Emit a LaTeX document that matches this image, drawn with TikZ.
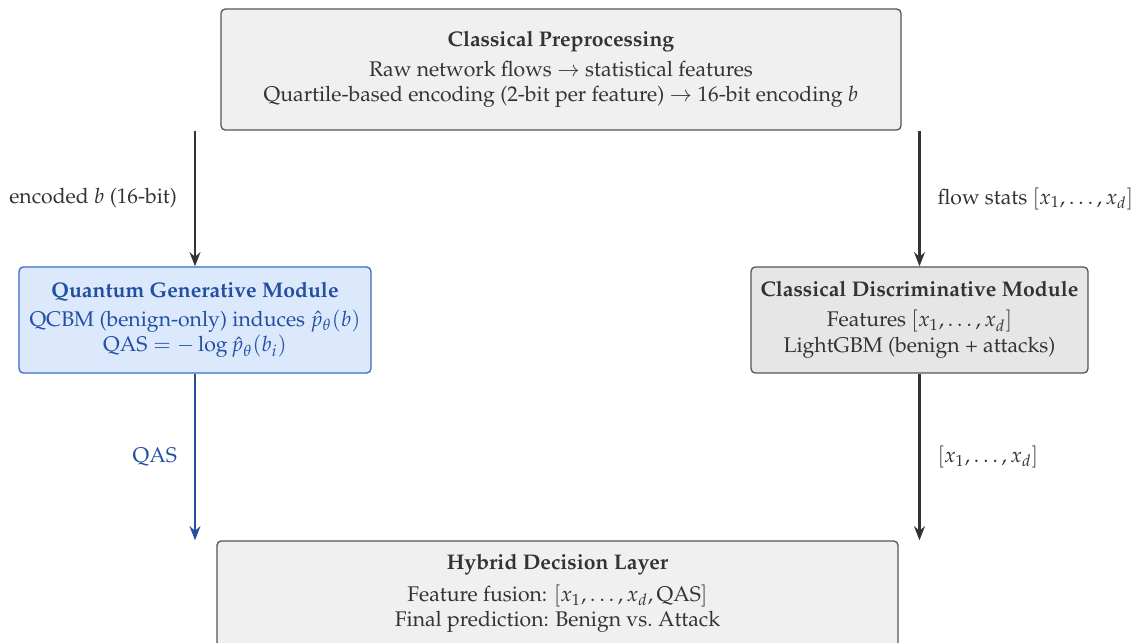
\documentclass[tikz,border=0pt]{standalone}
\usepackage[T1]{fontenc}
\usepackage{mathpazo}
\usetikzlibrary{arrows.meta}
\definecolor{txt}{HTML}{333333}
\definecolor{bordergray}{HTML}{555555}
\definecolor{fillA}{HTML}{F0F0F0}
\definecolor{fillB}{HTML}{E6E6E6}
\definecolor{qblue}{HTML}{2150A3}
\definecolor{qborder}{HTML}{3A6BC4}
\definecolor{qfill}{HTML}{DCE8FC}
\tikzset{
  every node/.style={font=\fontsize{9.75pt}{11.8pt}\selectfont},
  box/.style={draw=bordergray, line width=0.6pt, rounded corners=2pt, align=center, text=txt, inner sep=2pt},
  qbox/.style={draw=qborder, fill=qfill, line width=0.6pt, rounded corners=2pt, align=center, text=qblue, inner sep=2pt},
  arr/.style={draw=txt, line width=1pt, -{Stealth[length=6.5pt,width=5pt]}},
  qarr/.style={draw=qblue, line width=1pt, -{Stealth[length=6.5pt,width=5pt]}},
  lbl/.style={text=txt, inner sep=0pt},
}
\begin{document}
\begin{tikzpicture}[x=0.46pt,y=-0.46pt]
\useasboundingbox (0,0) rectangle (1135,643);
\node[box, fill=fillA, minimum width=312.8pt, minimum height=55.7pt] (pre) at (561,69.5)
  {\textbf{Classical Preprocessing}\\[2pt]
   Raw network flows $\rightarrow$ statistical features\\
   Quartile-based encoding (2-bit per feature) $\rightarrow$ 16-bit encoding $b$};
\node[qbox, minimum width=161.9pt, minimum height=48.8pt] (qgm) at (195,320)
  {\textbf{Quantum Generative Module}\\[1.5pt]
   QCBM (benign-only) induces $\hat{p}_\theta(b)$\\
   $\mathrm{QAS} = -\log \hat{p}_\theta(b_i)$};
\node[box, fill=fillB, minimum width=155pt, minimum height=48.8pt] (cdm) at (919.5,320)
  {\textbf{Classical Discriminative Module}\\[2pt]
   Features $[x_1,\ldots,x_d]$\\
   LightGBM (benign + attacks)};
\node[box, fill=fillA, minimum width=313.3pt, minimum height=55.7pt] (hyb) at (557.5,601.5)
  {\textbf{Hybrid Decision Layer}\\[3pt]
   Feature fusion: $[x_1,\ldots,x_d,\mathrm{QAS}]$\\
   Final prediction: Benign vs.\ Attack\\[-1.5pt]\mbox{}};
\draw[arr] (qgm.north |- pre.south) -- node[lbl, left=7.8pt] (l1) {encoded $b$ (16-bit)} (qgm.north);
\draw[arr] (cdm.north |- pre.south) -- node[lbl, right=7.8pt] (l2) {flow stats $[x_1,\ldots,x_d]$} (cdm.north);
\draw[qarr] (qgm.south) -- node[lbl, text=qblue, left=7.8pt] (l3) {QAS} (qgm.south |- hyb.north);
\draw[arr] (cdm.south) -- node[lbl, right=7.8pt] (l4) {$[x_1,\ldots,x_d]$} (cdm.south |- hyb.north);
\end{tikzpicture}
\end{document}
